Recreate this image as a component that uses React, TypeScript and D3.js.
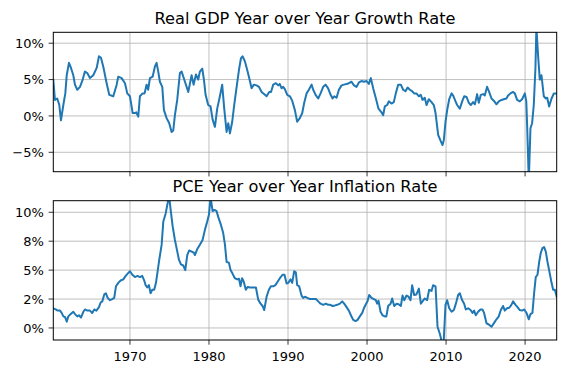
import React, { useEffect, useRef } from 'react';
import * as d3 from 'd3';

// [year, percent]
const gdpYears = [
  1960.3, 1960.51, 1960.8, 1961.06, 1961.27, 1961.57, 1961.82, 1962.0, 1962.28, 1962.54, 1962.83, 1963.04, 1963.33, 1963.68,
  1964.02, 1964.3, 1964.6, 1964.94, 1965.36, 1965.79, 1966.08, 1966.33, 1966.62, 1967.05, 1967.38, 1967.89, 1968.32, 1968.52,
  1968.95, 1969.37, 1969.66, 1970.0, 1970.34, 1970.63, 1970.8, 1971.05, 1971.26, 1971.6, 1971.85, 1972.1, 1972.3, 1972.53,
  1972.87, 1973.16, 1973.37, 1973.58, 1973.79, 1974.09, 1974.3, 1974.64, 1974.97, 1975.27, 1975.48, 1975.69, 1975.98, 1976.32,
  1976.54, 1976.96, 1977.38, 1977.8, 1978.05, 1978.35, 1978.64, 1978.85, 1979.15, 1979.36, 1979.57, 1979.9, 1980.2, 1980.46,
  1980.75, 1981.04, 1981.38, 1981.67, 1981.93, 1982.23, 1982.44, 1982.65, 1982.94, 1983.19, 1983.5, 1983.79, 1984.04, 1984.25,
  1984.55, 1984.84, 1985.09, 1985.39, 1985.68, 1986.03, 1986.32, 1986.66, 1987.08, 1987.29, 1987.62, 1987.85, 1988.13, 1988.47,
  1988.76, 1988.95, 1989.19, 1989.39, 1989.6, 1989.9, 1990.24, 1990.53, 1990.87, 1991.16, 1991.5, 1991.8, 1992.05, 1992.35,
  1992.64, 1992.98, 1993.19, 1993.49, 1993.82, 1994.12, 1994.45, 1994.75, 1995.08, 1995.39, 1995.64, 1995.85, 1996.14, 1996.44,
  1996.78, 1997.07, 1997.41, 1997.7, 1998.04, 1998.35, 1998.67, 1998.97, 1999.3, 1999.6, 1999.94, 2000.23, 2000.48, 2000.8,
  2001.1, 2001.45, 2001.83, 2002.04, 2002.25, 2002.55, 2002.76, 2003.1, 2003.39, 2003.64, 2003.94, 2004.28, 2004.57, 2004.87,
  2005.13, 2005.42, 2005.7, 2005.96, 2006.25, 2006.56, 2006.8, 2007.02, 2007.3, 2007.53, 2007.82, 2008.16, 2008.45, 2008.67,
  2009.0, 2009.3, 2009.55, 2009.72, 2009.93, 2010.14, 2010.4, 2010.7, 2010.9, 2011.2, 2011.4, 2011.74, 2012.04, 2012.29,
  2012.6, 2012.88, 2013.13, 2013.42, 2013.65, 2013.93, 2014.14, 2014.4, 2014.69, 2014.9, 2015.19, 2015.45, 2015.75, 2016.04,
  2016.38, 2016.67, 2017.01, 2017.3, 2017.64, 2017.85, 2018.15, 2018.48, 2018.7, 2018.99, 2019.33, 2019.62, 2019.97, 2020.15,
  2020.26, 2020.47, 2020.68, 2020.89, 2021.1, 2021.31, 2021.43, 2021.65, 2021.86, 2022.07, 2022.37, 2022.62, 2022.8, 2023.04,
  2023.35, 2023.64, 2024.0,
];
const gdpValues = [
  4.96, 2.2, 2.4, 1.5, -0.6, 1.5, 3.1, 5.6, 7.3, 6.6, 5.6, 4.3, 3.6, 4.0,
  5.0, 6.1, 5.9, 5.2, 5.6, 6.6, 8.2, 8.0, 6.8, 4.5, 2.9, 2.7, 4.3, 5.4,
  5.2, 4.5, 3.1, 2.7, 0.4, 0.4, 0.5, -0.1, 2.7, 3.1, 3.1, 4.3, 3.6, 5.2,
  5.4, 6.8, 7.3, 6.1, 4.7, 4.0, 0.8, -0.3, -1.0, -2.2, -2.0, 0.1, 2.2, 5.9,
  6.1, 4.7, 3.3, 5.6, 4.3, 5.7, 5.0, 6.1, 6.5, 5.0, 2.9, 1.5, 1.3, -0.5,
  -1.5, 1.0, 2.7, 4.3, 1.0, -2.2, -1.0, -2.4, -0.8, 1.5, 4.0, 6.3, 7.9, 8.2,
  7.5, 6.3, 5.2, 3.8, 4.3, 4.2, 4.0, 3.3, 2.9, 2.7, 3.3, 3.3, 4.3, 4.5,
  4.2, 4.4, 3.8, 4.0, 3.7, 2.9, 2.7, 2.1, 0.8, -0.8, -0.3, 0.4, 1.8, 3.1,
  3.6, 4.3, 3.6, 2.9, 2.4, 3.1, 4.0, 4.3, 3.8, 2.9, 2.4, 2.7, 2.5, 3.6,
  4.2, 4.3, 4.4, 4.5, 4.7, 4.2, 4.0, 4.6, 4.8, 4.7, 4.8, 4.4, 5.2, 3.7,
  2.5, 1.0, 0.5, 0.1, 1.3, 1.5, 2.0, 1.7, 1.9, 3.1, 4.3, 4.3, 3.6, 3.4,
  3.9, 3.6, 3.4, 3.1, 3.1, 2.7, 2.9, 2.2, 2.5, 1.5, 2.3, 1.9, 1.5, 0.4,
  -2.6, -3.4, -4.0, -3.3, -0.8, 0.8, 2.3, 3.1, 2.8, 2.0, 1.5, 1.0, 2.0, 2.7,
  2.6, 1.8, 1.5, 1.9, 1.6, 3.0, 1.8, 2.9, 3.0, 2.8, 4.0, 3.3, 2.4, 2.1,
  1.6, 2.0, 2.2, 2.3, 2.4, 2.8, 3.1, 3.3, 3.1, 2.2, 2.0, 2.3, 3.1, 2.0,
  -1.3, -9.0, -1.7, -1.0, 1.5, 6.6, 12.2, 8.2, 5.0, 5.6, 2.7, 2.4, 2.5, 1.3,
  2.4, 3.1, 3.1,
];

const pceYears = [
  1960.3, 1960.6, 1960.85, 1961.15, 1961.36, 1961.57, 1961.78, 1962.0, 1962.2, 1962.5, 1962.83, 1963.05, 1963.33, 1963.55,
  1963.8, 1964.1, 1964.3, 1964.6, 1964.94, 1965.23, 1965.48, 1965.75, 1966.08, 1966.29, 1966.5, 1966.75, 1966.96, 1967.18,
  1967.47, 1967.75, 1968.01, 1968.23, 1968.52, 1968.82, 1969.16, 1969.46, 1969.71, 1970.0, 1970.3, 1970.63, 1970.95, 1971.26,
  1971.55, 1971.81, 1971.98, 1972.19, 1972.4, 1972.61, 1972.82, 1973.07, 1973.29, 1973.5, 1973.71, 1974.01, 1974.22, 1974.52,
  1974.77, 1974.94, 1975.15, 1975.4, 1975.69, 1975.9, 1976.2, 1976.45, 1976.74, 1977.0, 1977.25, 1977.5, 1977.8, 1978.1,
  1978.22, 1978.5, 1978.85, 1979.19, 1979.49, 1979.78, 1980.0, 1980.2, 1980.46, 1980.7, 1980.96, 1981.17, 1981.47, 1981.8,
  1982.02, 1982.23, 1982.52, 1982.73, 1982.98, 1983.27, 1983.56, 1983.8, 1983.99, 1984.19, 1984.4, 1984.66, 1984.9, 1985.17,
  1985.6, 1985.94, 1986.23, 1986.53, 1986.78, 1986.99, 1987.29, 1987.58, 1987.84, 1988.13, 1988.4, 1988.68, 1988.97, 1989.31,
  1989.55, 1989.82, 1990.05, 1990.32, 1990.53, 1990.78, 1990.99, 1991.16, 1991.41, 1991.71, 1991.92, 1992.15, 1992.43, 1992.77,
  1993.19, 1993.53, 1993.82, 1994.12, 1994.45, 1994.79, 1995.08, 1995.35, 1995.64, 1995.95, 1996.22, 1996.57, 1996.86, 1997.11,
  1997.41, 1997.7, 1997.96, 1998.25, 1998.55, 1998.8, 1999.09, 1999.39, 1999.6, 1999.85, 2000.06, 2000.27, 2000.57, 2000.86,
  2001.11, 2001.28, 2001.45, 2001.71, 2001.96, 2002.25, 2002.45, 2002.67, 2002.98, 2003.18, 2003.44, 2003.74, 2004.0, 2004.28,
  2004.49, 2004.7, 2005.0, 2005.25, 2005.5, 2005.71, 2005.96, 2006.25, 2006.56, 2006.81, 2007.02, 2007.31, 2007.6, 2007.86,
  2008.16, 2008.36, 2008.67, 2008.92, 2009.21, 2009.5, 2009.7, 2009.93, 2010.14, 2010.4, 2010.7, 2010.99, 2011.24, 2011.53,
  2011.74, 2012.04, 2012.29, 2012.5, 2012.8, 2013.1, 2013.35, 2013.55, 2013.76, 2014.06, 2014.35, 2014.6, 2014.81, 2015.12,
  2015.41, 2015.75, 2016.04, 2016.38, 2016.67, 2016.93, 2017.22, 2017.43, 2017.72, 2018.0, 2018.27, 2018.48, 2018.79, 2019.04,
  2019.33, 2019.62, 2019.9, 2020.18, 2020.47, 2020.68, 2020.93, 2021.14, 2021.35, 2021.57, 2021.78, 2021.99, 2022.2, 2022.41,
  2022.62, 2022.84, 2023.04, 2023.35, 2023.55, 2023.77, 2024.0,
];
const pceValues = [
  1.7, 1.6, 1.5, 1.5, 1.3, 1.0, 0.95, 0.55, 1.0, 1.2, 1.4, 1.2, 1.0, 1.1,
  0.9, 1.4, 1.6, 1.5, 1.5, 1.3, 1.6, 1.5, 1.8, 2.2, 2.3, 2.9, 3.0, 2.6,
  2.4, 2.5, 2.6, 3.6, 3.9, 4.1, 4.2, 4.5, 4.7, 4.9, 4.6, 4.4, 4.5, 4.4,
  4.5, 4.1, 3.7, 3.5, 3.7, 3.0, 3.3, 3.3, 3.9, 4.9, 5.9, 7.2, 9.2, 9.9,
  10.8, 11.5, 10.2, 8.8, 7.6, 6.9, 5.9, 5.5, 5.4, 5.0, 6.3, 6.7, 6.6, 6.5,
  6.3, 6.8, 7.2, 7.6, 8.5, 9.2, 9.8, 11.3, 10.1, 10.2, 10.1, 9.6, 9.0, 8.2,
  7.2, 5.7, 5.65, 5.0, 4.7, 4.3, 4.2, 4.25, 3.6, 4.3, 4.0, 3.3, 3.55, 3.5,
  3.5, 3.5, 2.45, 2.1, 1.9, 1.55, 2.7, 3.3, 3.6, 3.6, 3.7, 4.0, 4.3, 4.6,
  4.6, 3.85, 3.9, 4.2, 3.9, 4.9, 4.8, 3.7, 3.6, 2.8, 2.6, 2.7, 2.6, 2.5,
  2.5, 2.5, 2.3, 2.1, 2.0, 2.1, 2.0, 2.0, 1.9, 1.95, 2.0, 2.1, 2.3, 2.1,
  1.8, 1.5, 1.1, 0.7, 0.6, 0.7, 1.0, 1.3, 1.7, 2.05, 2.3, 2.85, 2.6, 2.5,
  2.4, 2.1, 2.35, 1.4, 1.1, 1.0, 1.0, 1.9, 2.1, 2.55, 1.9, 2.1, 2.05, 1.9,
  2.8, 2.4, 2.8, 2.7, 2.4, 3.7, 2.85, 2.9, 3.4, 2.1, 2.3, 2.55, 2.4, 3.3,
  3.2, 3.7, 3.6, 0.1, -0.5, -1.3, -1.2, 2.0, 2.4, 1.7, 1.4, 1.55, 2.1, 2.85,
  3.0, 2.4, 2.1, 1.6, 1.7, 1.55, 1.3, 1.5, 1.1, 1.4, 1.6, 1.6, 1.3, 0.4,
  0.3, 0.1, 0.4, 0.75, 1.0, 1.55, 1.9, 1.5, 1.7, 1.75, 2.0, 2.3, 2.0, 1.8,
  1.55, 1.5, 1.6, 1.3, 0.75, 1.2, 1.3, 3.0, 4.4, 4.6, 5.7, 6.5, 6.9, 7.0,
  6.6, 5.7, 5.0, 3.9, 3.3, 3.3, 2.7,
];

const xTicks = [1970, 1980, 1990, 2000, 2010, 2020];
const gdpTicks = [-5, 0, 5, 10];
const gdpTickLabels = ['\u22125%', '0%', '5%', '10%'];
const pceTicks = [0, 2.5, 5, 7.5, 10];
const pceTickLabels = ['0%', '2%', '5%', '8%', '10%'];

const titles = ['Real GDP Year over Year Growth Rate', 'PCE Year over Year Inflation Rate'];

const W = 566;
const H = 374;
const FONT = 'DejaVu Sans, sans-serif';

const App: React.FC = () => {
  const svgRef = useRef<SVGSVGElement>(null);

  useEffect(() => {
    if (!svgRef.current) return;
    const svg = d3.select(svgRef.current);
    svg.selectAll('*').remove();

    const left = 53.3;
    const right = 556.7;
    const x = d3.scaleLinear().domain([1960.3, 2024.0]).range([left, right]);

    const panels = [
      {
        top: 32.3, bottom: 171.7, domain: [-7.67, 11.5],
        years: gdpYears, values: gdpValues, ticks: gdpTicks, labels: gdpTickLabels,
        title: titles[0], titleY: 23.5, xLabels: false,
      },
      {
        top: 200.7, bottom: 340, domain: [-1.04, 11.0],
        years: pceYears, values: pceValues, ticks: pceTicks, labels: pceTickLabels,
        title: titles[1], titleY: 192.3, xLabels: true,
      },
    ];

    panels.forEach((p, i) => {
      const y = d3.scaleLinear().domain(p.domain).range([p.bottom, p.top]);
      const g = svg.append('g');

      // grid
      g.selectAll('line.vg').data(xTicks).enter().append('line')
        .attr('x1', d => x(d)).attr('x2', d => x(d))
        .attr('y1', p.top).attr('y2', p.bottom)
        .attr('stroke', '#b0b0b0').attr('stroke-width', 0.8);
      g.selectAll('line.hg').data(p.ticks).enter().append('line')
        .attr('x1', left).attr('x2', right)
        .attr('y1', d => y(d)).attr('y2', d => y(d))
        .attr('stroke', '#b0b0b0').attr('stroke-width', 0.8);

      // line
      const clipId = `clip-${i}`;
      svg.append('clipPath').attr('id', clipId).append('rect')
        .attr('x', left).attr('y', p.top)
        .attr('width', right - left).attr('height', p.bottom - p.top);

      const pts = p.years.map((yr, k) => [yr, p.values[k]] as [number, number]);
      const line = d3.line<[number, number]>().x(d => x(d[0])).y(d => y(d[1]));
      g.append('path')
        .datum(pts)
        .attr('clip-path', `url(#${clipId})`)
        .attr('d', line)
        .attr('fill', 'none')
        .attr('stroke', '#1f77b4')
        .attr('stroke-width', 2)
        .attr('stroke-linejoin', 'round')
        .attr('stroke-linecap', 'square');

      // frame
      g.append('rect')
        .attr('x', left).attr('y', p.top)
        .attr('width', right - left).attr('height', p.bottom - p.top)
        .attr('fill', 'none').attr('stroke', 'black').attr('stroke-width', 1);

      // x ticks
      g.selectAll('line.xt').data(xTicks).enter().append('line')
        .attr('x1', d => x(d)).attr('x2', d => x(d))
        .attr('y1', p.bottom).attr('y2', p.bottom + 4.7)
        .attr('stroke', 'black').attr('stroke-width', 0.8);
      if (p.xLabels) {
        g.selectAll('text.xl').data(xTicks).enter().append('text')
          .attr('x', d => x(d)).attr('y', p.bottom + 20.7)
          .attr('text-anchor', 'middle')
          .attr('font-family', FONT).attr('font-size', 13)
          .text(d => String(d));
      }

      // y ticks
      g.selectAll('line.yt').data(p.ticks).enter().append('line')
        .attr('x1', left - 4.7).attr('x2', left)
        .attr('y1', d => y(d)).attr('y2', d => y(d))
        .attr('stroke', 'black').attr('stroke-width', 0.8);
      g.selectAll('text.yl').data(p.ticks).enter().append('text')
        .attr('x', left - 9.5).attr('y', d => y(d))
        .attr('dy', '0.36em')
        .attr('text-anchor', 'end')
        .attr('font-family', FONT).attr('font-size', 13)
        .text((d, k) => p.labels[k]);

      g.append('text')
        .attr('x', (left + right) / 2).attr('y', p.titleY)
        .attr('text-anchor', 'middle')
        .attr('font-family', FONT).attr('font-size', 16.2)
        .text(p.title);
    });
  }, []);

  return (
    <svg
      ref={svgRef}
      width={W}
      height={H}
      style={{ position: 'absolute', left: 0, top: 0, background: 'white' }}
    />
  );
};

export default App;
